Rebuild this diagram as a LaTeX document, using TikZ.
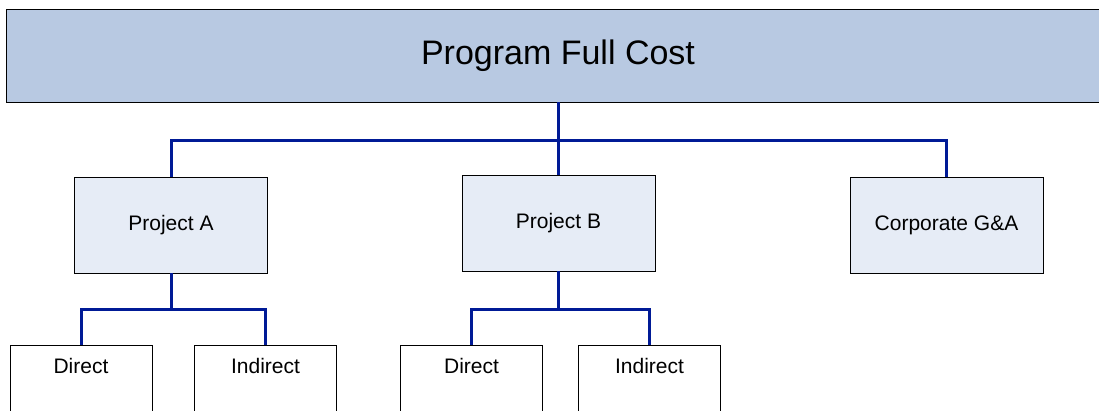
\documentclass[tikz,border=0pt]{standalone}
\usepackage{fontspec}
\setmainfont{Liberation Sans}
\definecolor{topfill}{RGB}{184,201,226}
\definecolor{boxfill}{RGB}{230,236,246}
\definecolor{conncol}{RGB}{0,26,150}
\begin{document}
\begin{tikzpicture}[x=1pt,y=-1pt,
  topbox/.style={draw=black,line width=0.8pt,fill=topfill,minimum width=1104pt,minimum height=93pt,inner sep=0pt,font=\fontsize{34}{40}\selectfont},
  projbox/.style={draw=black,line width=0.8pt,fill=boxfill,minimum width=193pt,minimum height=96pt,inner sep=0pt,font=\fontsize{21}{25}\selectfont},
  leafbox/.style={draw=black,line width=0.8pt,fill=white,anchor=north,minimum width=142pt,inner xsep=0pt,inner ysep=13pt,text height=15pt,text depth=60pt,font=\fontsize{21}{25}\selectfont},
  conn/.style={draw=conncol,line width=3pt}]
\useasboundingbox (0,0) rectangle (1099,411);
\node[topbox] (top) at (558,55.5) {Program Full Cost};
\node[projbox] (pa) at (171,225) {Project A};
\node[projbox] (pb) at (558.5,223) {Project B};
\node[projbox] (cg) at (946.5,225) {Corporate G\&A};
\node[leafbox] (da) at (81,345) {Direct};
\node[leafbox] (ia) at (265.5,345) {Indirect};
\node[leafbox] (db) at (471.5,345) {Direct};
\node[leafbox] (ib) at (649.5,345) {Indirect};
\coordinate (bus) at (558,141);
\coordinate (busa) at (171,309);
\coordinate (busb) at (558.5,309);
\draw[conn] (top.south -| pb.north) -- (pb.north);
\draw[conn] (pa.north) |- (bus) -| (cg.north);
\draw[conn] (pa.south) -- (busa);
\draw[conn] (da.north) |- (busa) -| (ia.north);
\draw[conn] (pb.south) -- (busb);
\draw[conn] (db.north) |- (busb) -| (ib.north);
\end{tikzpicture}
\end{document}
